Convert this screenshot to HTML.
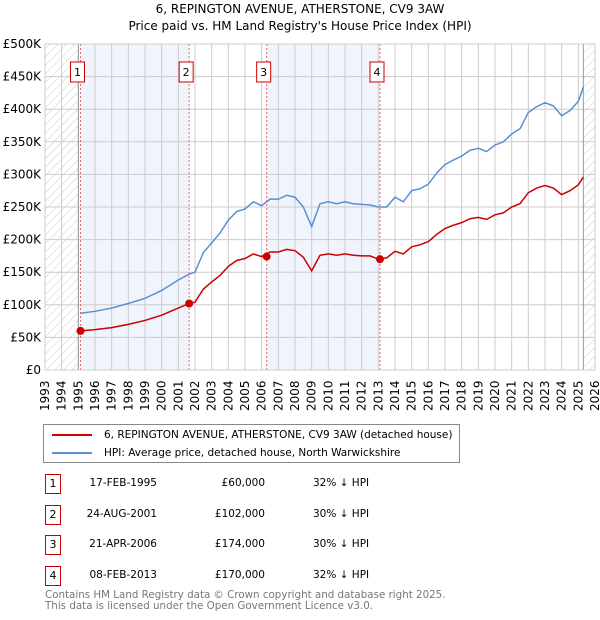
<!DOCTYPE html>
<html><head><meta charset="utf-8"><style>
body{margin:0;background:#fff;font-family:"DejaVu Sans","Liberation Sans",sans-serif;}
#wrap{position:relative;width:600px;height:620px;overflow:hidden}
.t{position:absolute;font-size:12px;color:#000;white-space:nowrap}
.box{position:absolute;border:1px solid #c00;width:14px;height:18px;text-align:center;line-height:18px;font-size:11px;background:#fff}
</style></head><body>
<div id="wrap">
<div class="t" style="left:0;width:600px;text-align:center;top:2px;font-size:12px">6, REPINGTON AVENUE, ATHERSTONE, CV9 3AW</div>
<div class="t" style="left:0;width:600px;text-align:center;top:19px;font-size:12px">Price paid vs. HM Land Registry's House Price Index (HPI)</div>
<svg id="chart" width="600" height="420" style="position:absolute;left:0;top:0" font-family="DejaVu Sans, Liberation Sans, sans-serif"></svg>
<div style="position:absolute;left:43px;top:424px;width:415px;height:37px;border:1px solid #888;font-size:10.5px">
 <div style="position:absolute;left:8px;top:4px;white-space:nowrap"><span style="display:inline-block;width:40px;height:2px;background:#c00;vertical-align:middle;margin-right:12px"></span>6, REPINGTON AVENUE, ATHERSTONE, CV9 3AW (detached house)</div>
 <div style="position:absolute;left:8px;top:22px;white-space:nowrap"><span style="display:inline-block;width:40px;height:2px;background:#5b8fd4;vertical-align:middle;margin-right:12px"></span>HPI: Average price, detached house, North Warwickshire</div>
</div>
<div id="tbl"></div>
<div class="t" style="left:45px;top:589px;font-size:10.3px;color:#777">Contains HM Land Registry data © Crown copyright and database right 2025.</div>
<div class="t" style="left:45px;top:600px;font-size:10.3px;color:#777">This data is licensed under the Open Government Licence v3.0.</div>
</div>
<script>
const years=[1995.13,1996,1997,1998,1999,2000,2001,2001.65,2002,2002.5,2003,2003.5,2004,2004.5,2005,2005.5,2006,2006.5,2007,2007.5,2008,2008.5,2009,2009.5,2010,2010.5,2011,2011.5,2012,2012.5,2013,2013.5,2014,2014.5,2015,2015.5,2016,2016.5,2017,2017.5,2018,2018.5,2019,2019.5,2020,2020.5,2021,2021.5,2022,2022.5,2023,2023.5,2024,2024.5,2025,2025.3];
const hpi=[87,90,95,102,110,122,138,147,150,180,195,210,230,243,247,258,252,262,262,268,265,250,220,255,258,255,258,255,254,253,250,250,265,258,275,278,285,302,315,322,328,337,340,335,345,350,362,370,395,404,410,405,390,398,412,434];
const price=[60,62,65,70,76,84,95,102,104,124,135,145,159,168,171,178,174,181,181,185,183,173,152,176,178,176,178,176,175,175,170,172,182,178,189,192,197,208,217,222,226,232,234,231,238,241,250,255,272,279,283,279,269,275,284,296];
const saleYears=[1995.13,2001.65,2006.3,2013.1];
const saleValues=[60,102,174,170];
const saleDates=["17-FEB-1995","24-AUG-2001","21-APR-2006","08-FEB-2013"];
const salePrices=["£60,000","£102,000","£174,000","£170,000"];
const salePcts=["32% ↓ HPI","30% ↓ HPI","30% ↓ HPI","32% ↓ HPI"];
const yTicks=[0,50,100,150,200,250,300,350,400,450,500];
const yLabels=["£0","£50K","£100K","£150K","£200K","£250K","£300K","£350K","£400K","£450K","£500K"];
const X0=45,X1=595,Y0=370,Y1=44;
const x=y=>X0+(y-1993)/33*(X1-X0);
const yv=v=>Y0-v/500*(Y0-Y1);
const svg=document.getElementById('chart');const NS='http://www.w3.org/2000/svg';
function mk(t,a,p){const e=document.createElementNS(NS,t);for(const k in a)e.setAttribute(k,a[k]);(p||svg).appendChild(e);return e;}
const defs=mk('defs',{});const pat=mk('pattern',{id:'h',width:6,height:6,patternUnits:'userSpaceOnUse',patternTransform:'rotate(45)'},defs);mk('line',{x1:0,y1:0,x2:0,y2:6,stroke:'#ccc','stroke-width':1},pat);
for(let i=0;i<saleYears.length;i++){const a=saleYears[i],b=i<3?saleYears[i+1]:null;if(i%2===0&&b){const r=mk('rect',{x:x(a),y:Y1,width:x(b)-x(a),height:Y0-Y1,fill:'#f0f4fd'});}}
let r1=mk('rect',{x:X0,y:Y1,width:x(1995)-X0,height:Y0-Y1,fill:'url(#h)'});
let r2=mk('rect',{x:x(2025.3),y:Y1,width:X1-x(2025.3),height:Y0-Y1,fill:'url(#h)'});
for(let yr=1993;yr<=2026;yr++){const l=mk('line',{x1:x(yr),x2:x(yr),y1:Y1,y2:Y0,stroke:'#ccc'});
const t=mk('text',{x:0,y:0,transform:`translate(${x(yr)+4},${Y0+41}) rotate(-90)`,'font-size':12});t.textContent=yr;}
yTicks.forEach((v,i)=>{const l=mk('line',{x1:X0,x2:X1,y1:yv(v),y2:yv(v),stroke:'#ccc'});
const t=mk('text',{x:41,y:yv(v)+4,'font-size':12,'text-anchor':'end'});t.textContent=yLabels[i];});
[x(1995),x(2025.3)].forEach(px=>{const l=mk('line',{x1:px,x2:px,y1:Y1,y2:Y0,stroke:'#999'});});
saleYears.forEach((s,i)=>{const l=mk('line',{x1:x(s),x2:x(s),y1:Y1,y2:Y0,stroke:'#e66','stroke-dasharray':'2,2'});
const bx=x(s)+4-14;const r=mk('rect',{x:bx,y:62,width:14,height:20,fill:'#fff',stroke:'#c00'});
const t=mk('text',{x:bx+7,y:76,'font-size':11,'text-anchor':'middle'});t.textContent=i+1;});
const hp=mk('polyline',{points:years.map((y,i)=>x(y)+','+yv(hpi[i])).join(' '),fill:'none',stroke:'#5b8fd4','stroke-width':1.5});
const pp=mk('polyline',{points:years.map((y,i)=>x(y)+','+yv(price[i])).join(' '),fill:'none',stroke:'#c00','stroke-width':1.5});
saleYears.forEach((s,i)=>{const c=mk('circle',{cx:x(s),cy:yv(saleValues[i]),r:4,fill:'#c00'});});
const fr=mk('rect',{x:X0,y:Y1,width:X1-X0,height:Y0-Y1,fill:'none',stroke:'#ccc'});
const tbl=document.getElementById('tbl');
saleDates.forEach((d,i)=>{const top=474+i*30.5;
const row=document.createElement('div');row.style.cssText=`position:absolute;left:0;top:${top}px;width:600px;height:20px;font-size:11px`;
row.innerHTML=`<div class="box" style="left:45px;top:0">${i+1}</div><div class="t" style="left:60px;width:97px;text-align:right;top:3px;font-size:10.5px">${d}</div><div class="t" style="left:165px;width:100px;text-align:right;top:3px;font-size:10.5px">${salePrices[i]}</div><div class="t" style="left:313px;top:3px;font-size:10.5px">${salePcts[i]}</div>`;
tbl.appendChild(row);});
</script>
</body></html>
